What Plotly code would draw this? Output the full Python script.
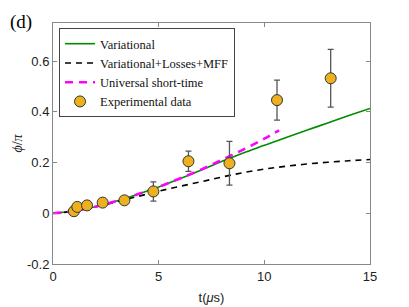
import plotly.graph_objects as go

# Model curves
t_curve = [0, 1, 2, 3, 4, 5, 6, 7, 8, 9, 10, 11, 12, 13, 14, 15]
variational = [0, 0.009, 0.026, 0.048, 0.075, 0.104, 0.136, 0.170, 0.205, 0.238, 0.268, 0.298, 0.327, 0.356, 0.385, 0.413]
var_losses = [0, 0.008, 0.025, 0.045, 0.066, 0.087, 0.106, 0.124, 0.143, 0.160, 0.174, 0.185, 0.194, 0.201, 0.207, 0.212]
t_short = [0, 1, 2, 3, 4, 5, 6, 7, 8, 9, 10, 10.7]
universal_short = [0, 0.009, 0.026, 0.048, 0.075, 0.104, 0.137, 0.172, 0.211, 0.251, 0.294, 0.327]

# Experimental data
t_exp = [0.99, 1.15, 1.61, 2.35, 3.38, 4.75, 6.41, 8.35, 10.6, 13.14]
phi_exp = [0.008, 0.025, 0.031, 0.042, 0.051, 0.086, 0.205, 0.197, 0.446, 0.532]
phi_err = [0, 0, 0, 0, 0, 0.038, 0.040, 0.086, 0.079, 0.114]

x_ticks = [0, 5, 10, 15]
y_ticks = [-0.2, 0, 0.2, 0.4, 0.6]
y_ticktext = ["-0.2", "0", "0.2", "0.4", "0.6"]

fig = go.Figure()
fig.add_trace(go.Scatter(x=t_curve, y=variational, mode="lines", name="Variational",
                         line=dict(color="rgb(0,140,0)", width=1.6, shape="spline")))
fig.add_trace(go.Scatter(x=t_curve, y=var_losses, mode="lines", name="Variational+Losses+MFF",
                         line=dict(color="black", width=1.6, dash="6px,5px", shape="spline")))
fig.add_trace(go.Scatter(x=t_short, y=universal_short, mode="lines", name="Universal short-time",
                         line=dict(color="#FF00FF", width=2.6, dash="8px,6px", shape="spline")))
fig.add_trace(go.Scatter(x=t_exp, y=phi_exp, mode="markers", name="Experimental data",
                         marker=dict(color="#EDB120", size=11, line=dict(color="#333333", width=1)),
                         error_y=dict(type="data", array=phi_err, visible=True,
                                      color="#555555", thickness=1.3, width=3)))

axis_common = dict(showline=True, linecolor="#888888", linewidth=1, mirror="ticks",
                   ticks="inside", ticklen=4, tickcolor="#888888", showgrid=False, zeroline=False,
                   automargin=False,
                   tickfont=dict(family="Liberation Sans, Arial", size=13, color="#222222"))

fig.update_layout(
    width=409, height=307,
    margin=dict(l=45, r=47, t=15, b=51),
    paper_bgcolor="white", plot_bgcolor="white",
    showlegend=True,
    legend=dict(x=0.019, y=0.979, xanchor="left", yanchor="top",
                bgcolor="white", bordercolor="#444444", borderwidth=1,
                font=dict(family="Liberation Serif, Times New Roman", size=12.5, color="#111111"),
                itemwidth=30, tracegroupgap=0),
    xaxis=dict(range=[0, 15], tickvals=x_ticks,
               title=dict(text="t(<i>μ</i>s)", standoff=10,
                          font=dict(family="Liberation Sans, Arial", size=13, color="#222222")),
               **axis_common),
    yaxis=dict(range=[-0.2, 0.75], tickvals=y_ticks, ticktext=y_ticktext,
               title=dict(text="<i>ϕ</i>/<i>π</i>", standoff=1,
                          font=dict(family="Liberation Serif, Times New Roman", size=14, color="#222222")),
               **axis_common),
    annotations=[dict(text="(d)", x=-0.142, y=1.004, xref="paper", yref="paper",
                      xanchor="left", yanchor="middle", showarrow=False,
                      font=dict(family="Liberation Serif, Times New Roman", size=19, color="black"))],
)

fig.write_html("out.html")
